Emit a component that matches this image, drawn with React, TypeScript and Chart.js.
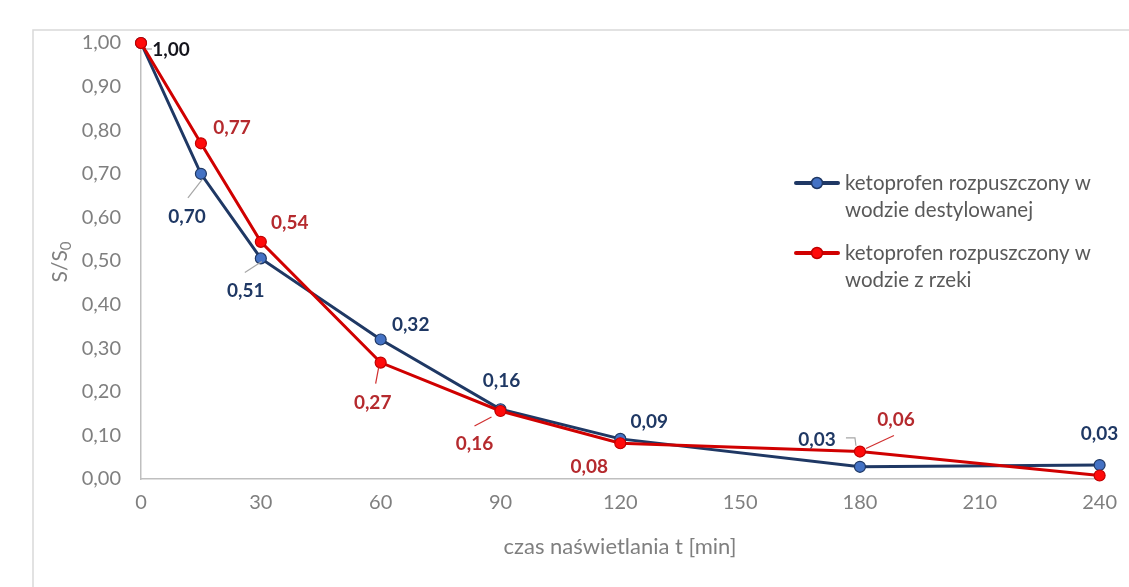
import React, { useEffect, useRef } from "react";
import { Chart, registerables } from "chart.js";

Chart.register(...registerables);

const TIMES = [0, 15, 30, 60, 90, 120, 180, 240];
const SERIES_DIST = [1.0, 0.7, 0.506, 0.32, 0.16, 0.092, 0.028, 0.032];
const SERIES_RIVER = [1.0, 0.77, 0.544, 0.267, 0.156, 0.082, 0.063, 0.008];
const SERIES_NAMES = [
  ["ketoprofen rozpuszczony w", "wodzie destylowanej"],
  ["ketoprofen rozpuszczony w", "wodzie z rzeki"],
];
const X_TICKS = [0, 30, 60, 90, 120, 150, 180, 210, 240];
const X_TITLE = "czas naświetlania t [min]";
const Y_TITLE_MAIN = "S/S";
const Y_TITLE_SUB = "0";

const FONT = "Lato, 'Open Sans', sans-serif";

const NAVY = "#1F3864";
const BLUE_FILL = "#4472C4";
const RED_LINE = "#D00000";
const RED_FILL = "#FF0A0A";
const RED_LABEL = "#B52A2E";

// label placement (offset from point, in px) and optional leader polyline
type LabelCfg = { dx: number; dy: number; color?: string; leader?: number[][] } | null;
const LABELS_DIST: LabelCfg[] = [
  { dx: 30, dy: 7, color: "#14141c", leader: [[5, 6], [11, 6]] },
  { dx: -14, dy: 43, leader: [[1, 6], [-13, 24]] },
  { dx: -15, dy: 32, leader: [[1, 3], [-16, 14]] },
  { dx: 30, dy: -15 },
  { dx: 1, dy: -28 },
  { dx: 29, dy: -17 },
  { dx: -43, dy: -27, leader: [[-14, -29], [-5, -29], [-4, -21]] },
  { dx: 0, dy: -31 },
];
const LABELS_RIVER: LabelCfg[] = [
  null,
  { dx: 31, dy: -15 },
  { dx: 29, dy: -19 },
  { dx: -8, dy: 40, leader: [[-2, 5], [-5, 21]] },
  { dx: -26, dy: 33, leader: [[-9, 6], [-26, 15]] },
  { dx: -31, dy: 24 },
  { dx: 36, dy: -32, leader: [[6, -3], [34, -16]] },
  null,
];

const fmt = (v: number) => v.toFixed(2).replace(".", ",");

export default function App() {
  const ref = useRef<HTMLCanvasElement | null>(null);

  useEffect(() => {
    if (!ref.current) return;
    const labelCfgs = [LABELS_DIST, LABELS_RIVER];
    const labelColors = [NAVY, RED_LABEL];
    const leaderColors = ["#A6A6A6", "#D03030"];

    const decor = {
      id: "decor",
      beforeDraw(chart: any) {
        const ctx = chart.ctx;
        ctx.save();
        ctx.strokeStyle = "#D9D9D9";
        ctx.lineWidth = 1.5;
        ctx.beginPath();
        ctx.moveTo(33, 587);
        ctx.lineTo(33, 30);
        ctx.lineTo(1129, 30);
        ctx.stroke();
        ctx.restore();
      },
      afterDatasetsDraw(chart: any) {
        const ctx = chart.ctx;
        ctx.save();
        chart.data.datasets.forEach((ds: any, di: number) => {
          const meta = chart.getDatasetMeta(di);
          meta.data.forEach((pt: any, i: number) => {
            const cfg = labelCfgs[di][i];
            if (!cfg) return;
            if (cfg.leader) {
              ctx.strokeStyle = leaderColors[di];
              ctx.lineWidth = 1.2;
              ctx.beginPath();
              cfg.leader.forEach((p, k) => {
                if (k === 0) ctx.moveTo(pt.x + p[0], pt.y + p[1]);
                else ctx.lineTo(pt.x + p[0], pt.y + p[1]);
              });
              ctx.stroke();
            }
            ctx.fillStyle = cfg.color || labelColors[di];
            ctx.font = `bold 19px ${FONT}`;
            ctx.textAlign = "center";
            ctx.textBaseline = "middle";
            ctx.fillText(fmt(ds.data[i].y), pt.x + cfg.dx, pt.y + cfg.dy);
          });
        });
        ctx.restore();
      },
      afterDraw(chart: any) {
        const ctx = chart.ctx;
        const area = chart.chartArea;
        ctx.save();
        // x title
        ctx.fillStyle = "#7F7F7F";
        ctx.font = `22px ${FONT}`;
        ctx.textAlign = "center";
        ctx.textBaseline = "middle";
        ctx.fillText(X_TITLE, 620, 547);
        // y title with subscript
        ctx.save();
        ctx.translate(60, 262);
        ctx.rotate(-Math.PI / 2);
        ctx.font = `21px ${FONT}`;
        const wMain = ctx.measureText(Y_TITLE_MAIN).width;
        ctx.font = `15px ${FONT}`;
        const wSub = ctx.measureText(Y_TITLE_SUB).width;
        const total = wMain + wSub;
        ctx.textAlign = "left";
        ctx.font = `21px ${FONT}`;
        ctx.fillText(Y_TITLE_MAIN, -total / 2, 0);
        ctx.font = `15px ${FONT}`;
        ctx.fillText(Y_TITLE_SUB, -total / 2 + wMain, 6);
        ctx.restore();
        // legend
        const entries = [
          { line: NAVY, fill: BLUE_FILL, border: NAVY, y: 183 },
          { line: RED_LINE, fill: RED_FILL, border: "#C00000", y: 253 },
        ];
        entries.forEach((e, k) => {
          ctx.strokeStyle = e.line;
          ctx.lineWidth = 4;
          ctx.lineCap = "round";
          ctx.beginPath();
          ctx.moveTo(796, e.y);
          ctx.lineTo(838, e.y);
          ctx.stroke();
          ctx.beginPath();
          ctx.arc(817, e.y, 5.5, 0, Math.PI * 2);
          ctx.fillStyle = e.fill;
          ctx.fill();
          ctx.lineWidth = 1.5;
          ctx.strokeStyle = e.border;
          ctx.stroke();
          ctx.fillStyle = "#595959";
          ctx.font = `20.5px ${FONT}`;
          ctx.textAlign = "left";
          ctx.textBaseline = "middle";
          SERIES_NAMES[k].forEach((t, j) => ctx.fillText(t, 845, e.y + j * 27));
        });
        ctx.restore();
      },
    };

    const chart = new Chart(ref.current, {
      type: "line",
      data: {
        datasets: [
          {
            label: SERIES_NAMES[0].join(" "),
            data: TIMES.map((t, i) => ({ x: t, y: SERIES_DIST[i] })),
            borderColor: NAVY,
            borderWidth: 3,
            pointRadius: 5.5,
            pointBackgroundColor: BLUE_FILL,
            pointBorderColor: NAVY,
            pointBorderWidth: 1.2,
            tension: 0,
            clip: false,
            order: 1,
          },
          {
            label: SERIES_NAMES[1].join(" "),
            data: TIMES.map((t, i) => ({ x: t, y: SERIES_RIVER[i] })),
            borderColor: RED_LINE,
            borderWidth: 3,
            pointRadius: 5.5,
            pointBackgroundColor: RED_FILL,
            pointBorderColor: "#C00000",
            pointBorderWidth: 1.2,
            tension: 0,
            clip: false,
            order: 0,
          },
        ],
      },
      options: {
        animation: false,
        responsive: true,
        maintainAspectRatio: false,
        layout: { padding: { top: 43, right: 28, left: 0, bottom: 0 } },
        plugins: { legend: { display: false }, tooltip: { enabled: false } },
        scales: {
          x: {
            type: "linear",
            min: 0,
            max: 240,
            afterBuildTicks: (s: any) => {
              s.ticks = X_TICKS.map((v) => ({ value: v }));
            },
            afterFit: (s: any) => {
              s.height = 108;
            },
            grid: { display: false, drawTicks: false },
            border: { display: true, color: "#BFBFBF", width: 1.5 },
            ticks: {
              color: "#7F7F7F",
              font: { family: FONT, size: 20 },
              padding: 12,
              maxRotation: 0,
            },
          },
          y: {
            min: 0,
            max: 1,
            afterFit: (s: any) => {
              s.width = 141;
            },
            grid: { display: false, drawTicks: false },
            border: { display: true, color: "#BFBFBF", width: 1.5 },
            ticks: {
              stepSize: 0.1,
              color: "#7F7F7F",
              font: { family: FONT, size: 20 },
              padding: 20,
              callback: (v: any) => fmt(Number(v)),
            },
          },
        },
      },
      plugins: [decor],
    } as any);
    return () => chart.destroy();
  }, []);

  return (
    <div style={{ position: "absolute", left: 0, top: 0, width: 1129, height: 587, background: "#fff" }}>
      <canvas ref={ref} />
    </div>
  );
}
